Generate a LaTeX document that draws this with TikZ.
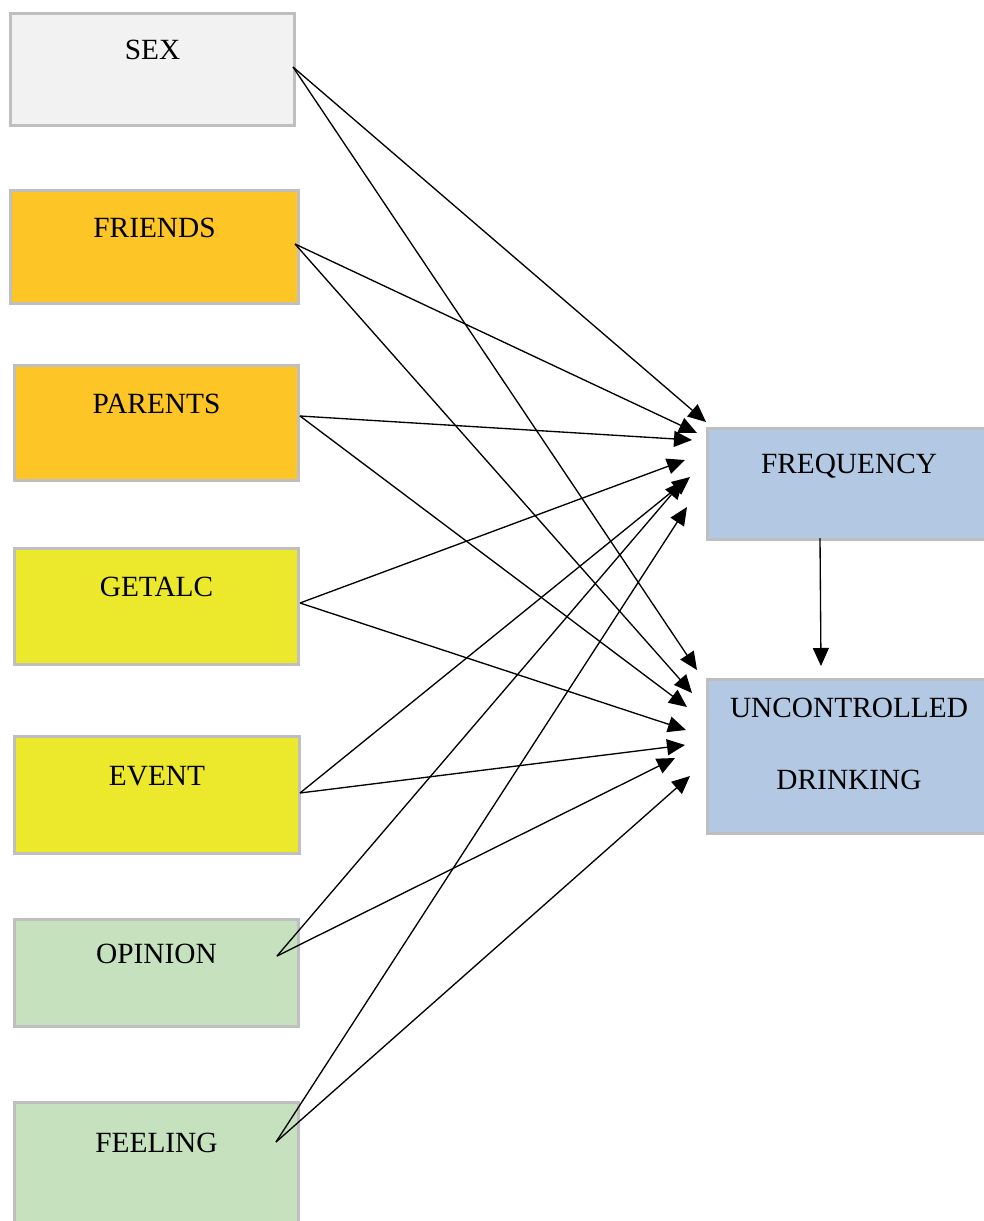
\documentclass[tikz,border=0pt]{standalone}
\usepackage{fontspec}
\setmainfont{Liberation Serif}
\usetikzlibrary{arrows.meta}
\definecolor{boxgray}{HTML}{BFBFBF}
\definecolor{sexgray}{HTML}{F2F2F2}
\definecolor{peergold}{HTML}{FEC526}
\definecolor{getyellow}{HTML}{ECE82B}
\definecolor{viewgreen}{HTML}{C5E1BE}
\definecolor{outblue}{HTML}{B3C8E3}
\tikzset{boxed/.style={draw=boxgray,line width=2.8pt,rectangle,inner sep=0pt,outer sep=0pt,anchor=north west},
         boxtitle/.style 2 args={label={[anchor=base,yshift={-#1*0.75pt},font=\fontsize{22}{26}\selectfont]north:#2}},
         conn/.style={-{Triangle[length=13.5pt,width=12pt]},line width=1pt,black}}

\begin{document}
\begin{tikzpicture}[x=0.75pt,y=-0.75pt]
                   \useasboundingbox (0,0) rectangle (984,1221);
                   % predictors
                   \node[boxed,fill=sexgray,minimum width=284*0.75pt,minimum height=112*0.75pt,boxtitle={45.5}{SEX}] (sex) at (10.5,13.5) {};
                   \node[boxed,fill=peergold,minimum width=288*0.75pt,minimum height=113*0.75pt,boxtitle={46.5}{FRIENDS}] (friends) at (10.5,190.5) {};
                   \node[boxed,fill=peergold,minimum width=284*0.75pt,minimum height=115*0.75pt,boxtitle={48}{PARENTS}] (parents) at (14.5,365.5) {};
                   \node[boxed,fill=getyellow,minimum width=284*0.75pt,minimum height=116*0.75pt,boxtitle={48}{GETALC}] (getalc) at (14.5,548.5) {};
                   \node[boxed,fill=getyellow,minimum width=285*0.75pt,minimum height=117*0.75pt,boxtitle={49}{EVENT}] (event) at (14.5,736.5) {};
                   \node[boxed,fill=viewgreen,minimum width=284*0.75pt,minimum height=107*0.75pt,boxtitle={44}{OPINION}] (opinion) at (14.5,919.5) {};
                   \node[boxed,fill=viewgreen,minimum width=284*0.75pt,minimum height=125*0.75pt,boxtitle={50}{FEELING}] (feeling) at (14.5,1102.5) {};
                   % outcomes
                   \node[boxed,fill=outblue,minimum width=283*0.75pt,minimum height=111*0.75pt,boxtitle={44.5}{FREQUENCY}] (freq) at (707.5,428.5) {};
                   \node[boxed,fill=outblue,minimum width=283*0.75pt,minimum height=154*0.75pt,boxtitle={37.5}{UNCONTROLLED},boxtitle={109.5}{DRINKING}] (unc) at (707.5,679.5) {};
                   % line ends
                   \coordinate (sex-o) at (293,67);
                   \coordinate (friends-o) at (295,244);
                   \coordinate (parents-o) at (300,416);
                   \coordinate (getalc-o) at (300,603);
                   \coordinate (event-o) at (300,793);
                   \coordinate (opinion-o) at (277,956);
                   \coordinate (feeling-o) at (276,1142);
                   \coordinate (freq-o) at (820,538);
                   \coordinate (freq-1) at (706,422);
                   \coordinate (freq-2) at (697,433);
                   \coordinate (freq-3) at (692,440);
                   \coordinate (freq-4) at (685,460);
                   \coordinate (freq-5) at (690,477);
                   \coordinate (freq-6) at (683,481);
                   \coordinate (freq-7) at (687,507);
                   \coordinate (unc-0) at (821,666);
                   \coordinate (unc-1) at (697,670);
                   \coordinate (unc-2) at (692,693);
                   \coordinate (unc-3) at (687,707);
                   \coordinate (unc-4) at (686,730);
                   \coordinate (unc-5) at (685,745);
                   \coordinate (unc-6) at (675,758);
                   \coordinate (unc-7) at (690,776);
                    \path[conn]
                    (sex-o) edge (freq-1)
                            edge (unc-1)
                    (friends-o) edge (freq-2)
                                edge (unc-2)
                    (parents-o) edge (freq-3)
                                edge (unc-3)
                    (getalc-o) edge (freq-4)
                               edge (unc-4)
                    (event-o) edge (freq-5)
                              edge (unc-5)
                    (opinion-o) edge (freq-6)
                                edge (unc-6)
                    (feeling-o) edge (freq-7)
                                edge (unc-7)
                    (freq-o) edge (unc-0);
                \end{tikzpicture}
\end{document}
